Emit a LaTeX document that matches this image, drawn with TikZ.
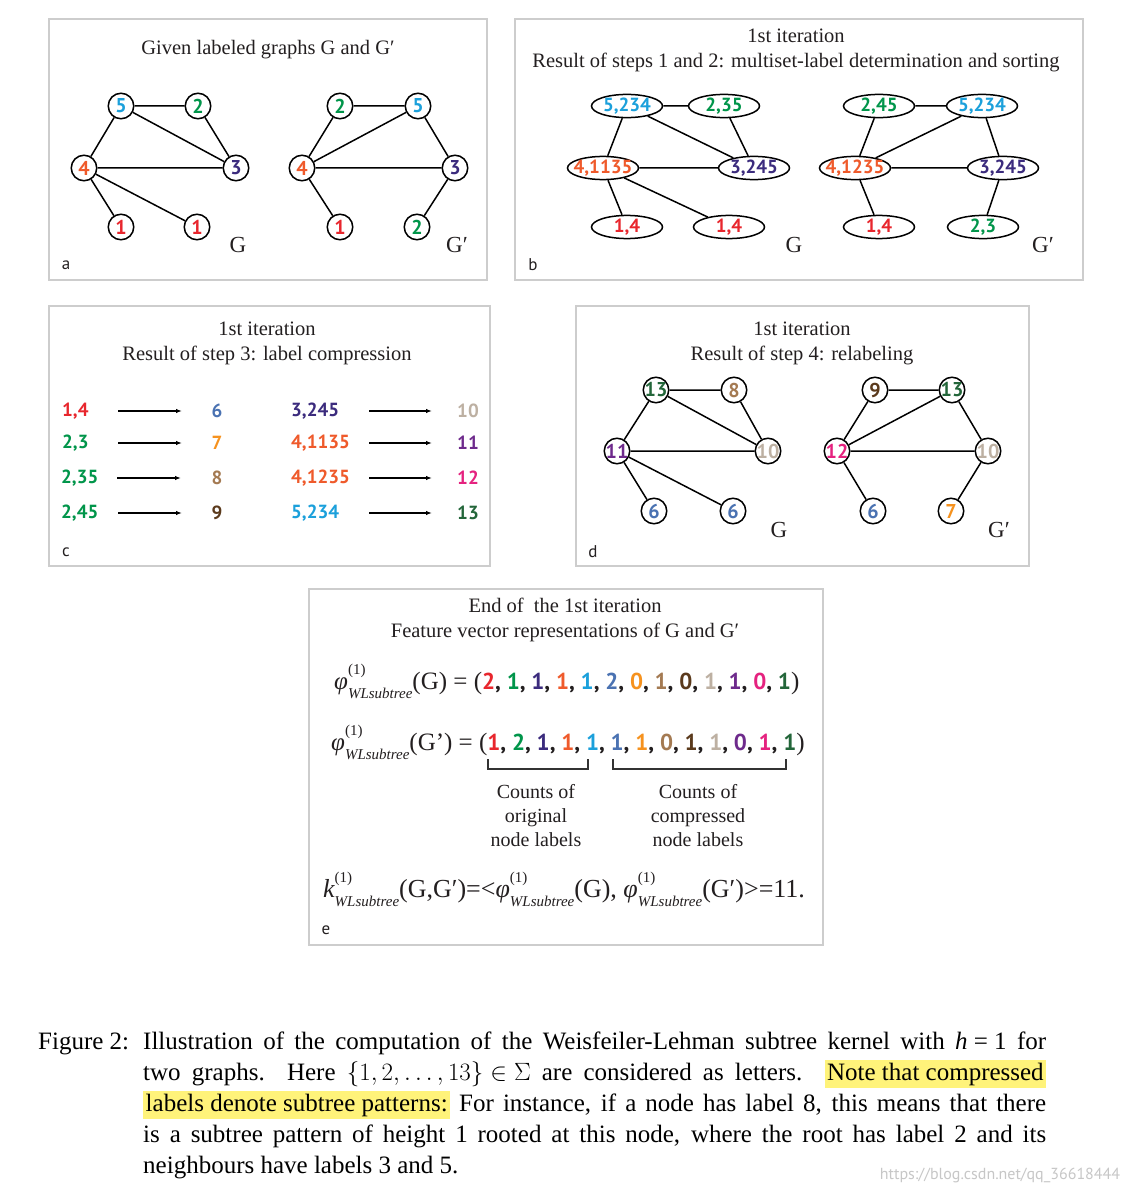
\documentclass[tikz,border=0pt]{standalone}
\usepackage{fix-cm}
\usepackage{fontspec}
\setmainfont{Liberation Serif}
\newfontfamily\numfont{PT Sans}
\newfontfamily\lblfont{PT Sans}
\usetikzlibrary{shapes.geometric,arrows.meta}
\definecolor{cA}{HTML}{E8262D}
\definecolor{cB}{HTML}{00954A}
\definecolor{cC}{HTML}{3B2B7D}
\definecolor{cD}{HTML}{EF5A2B}
\definecolor{cE}{HTML}{1BA0DB}
\definecolor{cF}{HTML}{4A72B2}
\definecolor{cG}{HTML}{F6921E}
\definecolor{cH}{HTML}{A47A52}
\definecolor{cI}{HTML}{5B3A1C}
\definecolor{cJ}{HTML}{BDB0A2}
\definecolor{cK}{HTML}{6E2A8C}
\definecolor{cL}{HTML}{E5227F}
\definecolor{cM}{HTML}{23663A}
\definecolor{framegray}{HTML}{CDCDCD}
\definecolor{textblack}{HTML}{231F20}
\definecolor{hl}{HTML}{FFF37A}
\newcommand\vl[2]{\makebox[0pt]{\textcolor{#1}{#2}}}
\newcommand\cv[2]{\textcolor{#1}{#2}}
\newcommand\wl[1]{#1\rlap{\raisebox{15pt}{\fontsize{15}{15}\selectfont(1)}}\raisebox{-9pt}{\fontsize{15}{15}\selectfont\itshape WLsubtree}}
\newcommand\vecone{{\numfont\bfseries\fontsize{23}{23}\selectfont \cv{cA}{2}, \cv{cB}{1}, \cv{cC}{1}, \cv{cD}{1}, \cv{cE}{1}, \cv{cF}{2}, \cv{cG}{0}, \cv{cH}{1}, \cv{cI}{0}, \cv{cJ}{1}, \cv{cK}{1}, \cv{cL}{0}, \cv{cM}{1}}}
\newcommand\vectwo{{\numfont\bfseries\fontsize{23}{23}\selectfont \cv{cA}{1}, \cv{cB}{2}, \cv{cC}{1}, \cv{cD}{1}, \cv{cE}{1}, \cv{cF}{1}, \cv{cG}{1}, \cv{cH}{0}, \cv{cI}{1}, \cv{cJ}{1}, \cv{cK}{0}, \cv{cL}{1}, \cv{cM}{1}}}
\newcommand\hlbox[1]{{\setlength\fboxsep{2.5pt}\colorbox{hl}{#1}}}
\tikzset{
 panel/.style={draw=framegray, line width=1.6pt},
 vtx/.style={circle, draw=black, line width=1.5pt, fill=white, minimum size=25.5pt, inner sep=0pt, font=\numfont\bfseries\fontsize{20}{20}\selectfont},
 mvtx/.style={ellipse, draw=black, line width=1.5pt, fill=white, minimum width=71pt, minimum height=21pt, inner sep=0pt, font=\numfont\bfseries\fontsize{19}{19}\selectfont},
 lnk/.style={draw=black, line width=1.5pt},
 ttl/.style={align=center, font=\fontsize{20.5}{25}\selectfont, text=textblack},
 glbl/.style={font=\fontsize{23}{23}\selectfont, text=textblack},
 plbl/.style={font=\lblfont\fontsize{17}{17}\selectfont, text=textblack},
 clbl/.style={anchor=west, inner sep=0pt, font=\numfont\bfseries\fontsize{19}{19}\selectfont},
 cnum/.style={inner sep=0pt, font=\numfont\bfseries\fontsize{19}{19}\selectfont},
 arr/.style={line width=1.2pt, -{Latex[length=6pt,width=4.5pt]}},
 brk/.style={line width=1.3pt, draw=black!80},
 eqn/.style={anchor=base west, inner sep=0pt, font=\fontsize{25}{25}\selectfont, text=textblack},
 cnt/.style={align=center, font=\fontsize{20}{24}\selectfont, text=textblack},
 captxt/.style={anchor=base west, inner sep=0pt, font=\fontsize{25}{25}\selectfont},
}
\begin{document}
\begin{tikzpicture}[x=1pt,y=-1pt]
\useasboundingbox (0,0) rectangle (1130,1193);
\fill[white] (0,0) rectangle (1130,1193);
% ---------- panels
\draw[panel] (49,19) rectangle (487,280);
\draw[panel] (515,19) rectangle (1083,280);
\draw[panel] (49,306) rectangle (490,566);
\draw[panel] (576,306) rectangle (1029,566);
\draw[panel] (309,589) rectangle (823,945);
% ---------- panel a
\node[ttl] (ta) at (268,50) {Given labeled graphs G and G′};
\node[vtx] (a5) at (121,106) {\vl{cE}{5}};
\node[vtx] (a2) at (198,106) {\vl{cB}{2}};
\node[vtx] (a4) at (84,168) {\vl{cD}{4}};
\node[vtx] (a3) at (236,168) {\vl{cC}{3}};
\node[vtx] (a1) at (121,227) {\vl{cA}{1}};
\node[vtx] (a1b) at (197,227) {\vl{cA}{1}};
\draw[lnk] (a5)--(a2) (a5)--(a4) (a5)--(a3) (a2)--(a3) (a4)--(a3) (a4)--(a1) (a4)--(a1b);
\node[glbl] (ga) at (238,245) {G};
\node[vtx] (ap2) at (340,106) {\vl{cB}{2}};
\node[vtx] (ap5) at (418,106) {\vl{cE}{5}};
\node[vtx] (ap4) at (302,168) {\vl{cD}{4}};
\node[vtx] (ap3) at (455,168) {\vl{cC}{3}};
\node[vtx] (ap1) at (340,227) {\vl{cA}{1}};
\node[vtx] (ap2b) at (417,227) {\vl{cB}{2}};
\draw[lnk] (ap2)--(ap5) (ap2)--(ap4) (ap5)--(ap4) (ap5)--(ap3) (ap4)--(ap3) (ap4)--(ap1) (ap3)--(ap2b);
\node[glbl] (gpa) at (457,245) {G′};
\node[plbl] (la) at (66,265) {a};
% ---------- panel b
\node[ttl] (tb) at (796,50) {1st iteration\\Result of steps 1 and 2: multiset-label determination and sorting};
\node[mvtx] (b5) at (627,106) {\vl{cE}{5,234}};
\node[mvtx] (b2) at (724,106) {\vl{cB}{2,35}};
\node[mvtx] (b4) at (603,168) {\vl{cD}{4,1135}};
\node[mvtx] (b3) at (754,168) {\vl{cC}{3,245}};
\node[mvtx] (b1) at (627,227) {\vl{cA}{1,4}};
\node[mvtx] (b1b) at (729,227) {\vl{cA}{1,4}};
\draw[lnk] (b5)--(b2) (b5)--(b4) (b5)--(b3) (b2)--(b3) (b4)--(b3) (b4)--(b1) (b4)--(b1b);
\node[glbl] (gb) at (794,245) {G};
\node[mvtx] (bp2) at (879,106) {\vl{cB}{2,45}};
\node[mvtx] (bp5) at (982,106) {\vl{cE}{5,234}};
\node[mvtx] (bp4) at (855,168) {\vl{cD}{4,1235}};
\node[mvtx] (bp3) at (1003,168) {\vl{cC}{3,245}};
\node[mvtx] (bp1) at (879,227) {\vl{cA}{1,4}};
\node[mvtx] (bp2b) at (983,227) {\vl{cB}{2,3}};
\draw[lnk] (bp2)--(bp5) (bp2)--(bp4) (bp5)--(bp4) (bp5)--(bp3) (bp4)--(bp3) (bp4)--(bp1) (bp3)--(bp2b);
\node[glbl] (gpb) at (1043,245) {G′};
\node[plbl] (lb) at (533,265) {b};
% ---------- panel c
\node[ttl] (tc) at (267,343) {1st iteration\\Result of step 3: label compression};
\node[clbl] (c1) at (62,411) {\cv{cA}{1,4}};
\node[clbl] (c2) at (62,443) {\cv{cB}{2,3}};
\node[clbl] (c3) at (61,478) {\cv{cB}{2,35}};
\node[clbl] (c4) at (61,513) {\cv{cB}{2,45}};
\node[cnum] (n6) at (217,411) {\cv{cF}{6}};
\node[cnum] (n7) at (217,443) {\cv{cG}{7}};
\node[cnum] (n8) at (217,478) {\cv{cH}{8}};
\node[cnum] (n9) at (217,513) {\cv{cI}{9}};
\node[clbl] (c5) at (291,411) {\cv{cC}{3,245}};
\node[clbl] (c6) at (291,443) {\cv{cD}{4,1135}};
\node[clbl] (c7) at (291,478) {\cv{cD}{4,1235}};
\node[clbl] (c8) at (291,513) {\cv{cE}{5,234}};
\node[cnum] (n10) at (468,411) {\cv{cJ}{10}};
\node[cnum] (n11) at (468,443) {\cv{cK}{11}};
\node[cnum] (n12) at (468,478) {\cv{cL}{12}};
\node[cnum] (n13) at (468,513) {\cv{cM}{13}};
\path (118,411) coordinate (s1) (182,411) coordinate (e1)
      (118,443) coordinate (s2) (182,443) coordinate (e2)
      (117,478) coordinate (s3) (181,478) coordinate (e3)
      (118,513) coordinate (s4) (182,513) coordinate (e4)
      (369,411) coordinate (s5) (432,411) coordinate (e5)
      (369,443) coordinate (s6) (432,443) coordinate (e6)
      (369,478) coordinate (s7) (432,478) coordinate (e7)
      (369,513) coordinate (s8) (432,513) coordinate (e8);
\foreach \i in {1,...,8} {\draw[arr] (s\i) -- (e\i);}
\node[plbl] (lc) at (66,552) {c};
% ---------- panel d
\node[ttl] (td) at (802,343) {1st iteration\\Result of step 4: relabeling};
\node[vtx] (d13) at (656,390) {\vl{cM}{13}};
\node[vtx] (d8) at (734,390) {\vl{cH}{8}};
\node[vtx] (d11) at (617,451) {\vl{cK}{11}};
\node[vtx] (d10) at (768,451) {\vl{cJ}{10}};
\node[vtx] (d6) at (654,511) {\vl{cF}{6}};
\node[vtx] (d6b) at (733,511) {\vl{cF}{6}};
\draw[lnk] (d13)--(d8) (d13)--(d11) (d13)--(d10) (d8)--(d10) (d11)--(d10) (d11)--(d6) (d11)--(d6b);
\node[glbl] (gd) at (779,530) {G};
\node[vtx] (dp9) at (875,390) {\vl{cI}{9}};
\node[vtx] (dp13) at (952,390) {\vl{cM}{13}};
\node[vtx] (dp12) at (837,451) {\vl{cL}{12}};
\node[vtx] (dp10) at (988,451) {\vl{cJ}{10}};
\node[vtx] (dp6) at (873,511) {\vl{cF}{6}};
\node[vtx] (dp7) at (951,511) {\vl{cG}{7}};
\draw[lnk] (dp9)--(dp13) (dp9)--(dp12) (dp13)--(dp12) (dp13)--(dp10) (dp12)--(dp10) (dp12)--(dp6) (dp10)--(dp7);
\node[glbl] (gpd) at (999,530) {G′};
\node[plbl] (ld) at (593,552) {d};
% ---------- panel e
\node[ttl] (te) at (565,620) {End of \ the 1st iteration\\Feature vector representations of G and G′};
\node[eqn] (f1) at (334,689) {\wl{{\itshape φ}}(G) = (\vecone)};
\node[eqn] (f2) at (331,750) {\wl{{\itshape φ}}(G’) = (\vectwo)};
\draw[brk] (488,759) -- (488,769) -- (588,769) -- (588,759);
\draw[brk] (613,759) -- (613,769) -- (786,769) -- (786,759);
\node[cnt] (k1) at (536,816) {Counts of\\original\\node labels};
\node[cnt] (k2) at (698,816) {Counts of\\compressed\\node labels};
\node[eqn, font=\fontsize{26}{26}\selectfont] (f3) at (323,897) {\wl{{\itshape k}}(G,G′)=<\wl{{\itshape φ}}(G), \wl{{\itshape φ}}(G′)>=11.};
\node[plbl] (le) at (326,930) {e};
% ---------- caption
\node[captxt] (fig) at (38,1049) {Figure 2:};
\node[captxt] (l1) at (143,1049) {\makebox[903pt][s]{Illustration of the computation of the Weisfeiler-Lehman subtree kernel with \hbox{{\itshape h} = 1} for}};
\node[captxt] (l2) at (143,1080) {\makebox[903pt][s]{two graphs.\ \ Here \hbox{$\{1,2,\ldots,13\}\in\Sigma$} are considered as letters.\ \ \hlbox{Note that compressed}}};
\node[captxt] (l3) at (143,1111) {\makebox[903pt][s]{\hlbox{labels denote subtree patterns:} For instance, if a node has label 8, this means that there}};
\node[captxt] (l4) at (143,1142) {\makebox[903pt][s]{is a subtree pattern of height 1 rooted at this node, where the root has label 2 and its}};
\node[captxt] (l5) at (143,1173) {neighbours have labels 3 and 5.};
\node[font=\lblfont\fontsize{16}{16}\selectfont, text=black!22] (wm) at (1000,1175) {https://blog.csdn.net/qq\_36618444};
\end{tikzpicture}
\end{document}
